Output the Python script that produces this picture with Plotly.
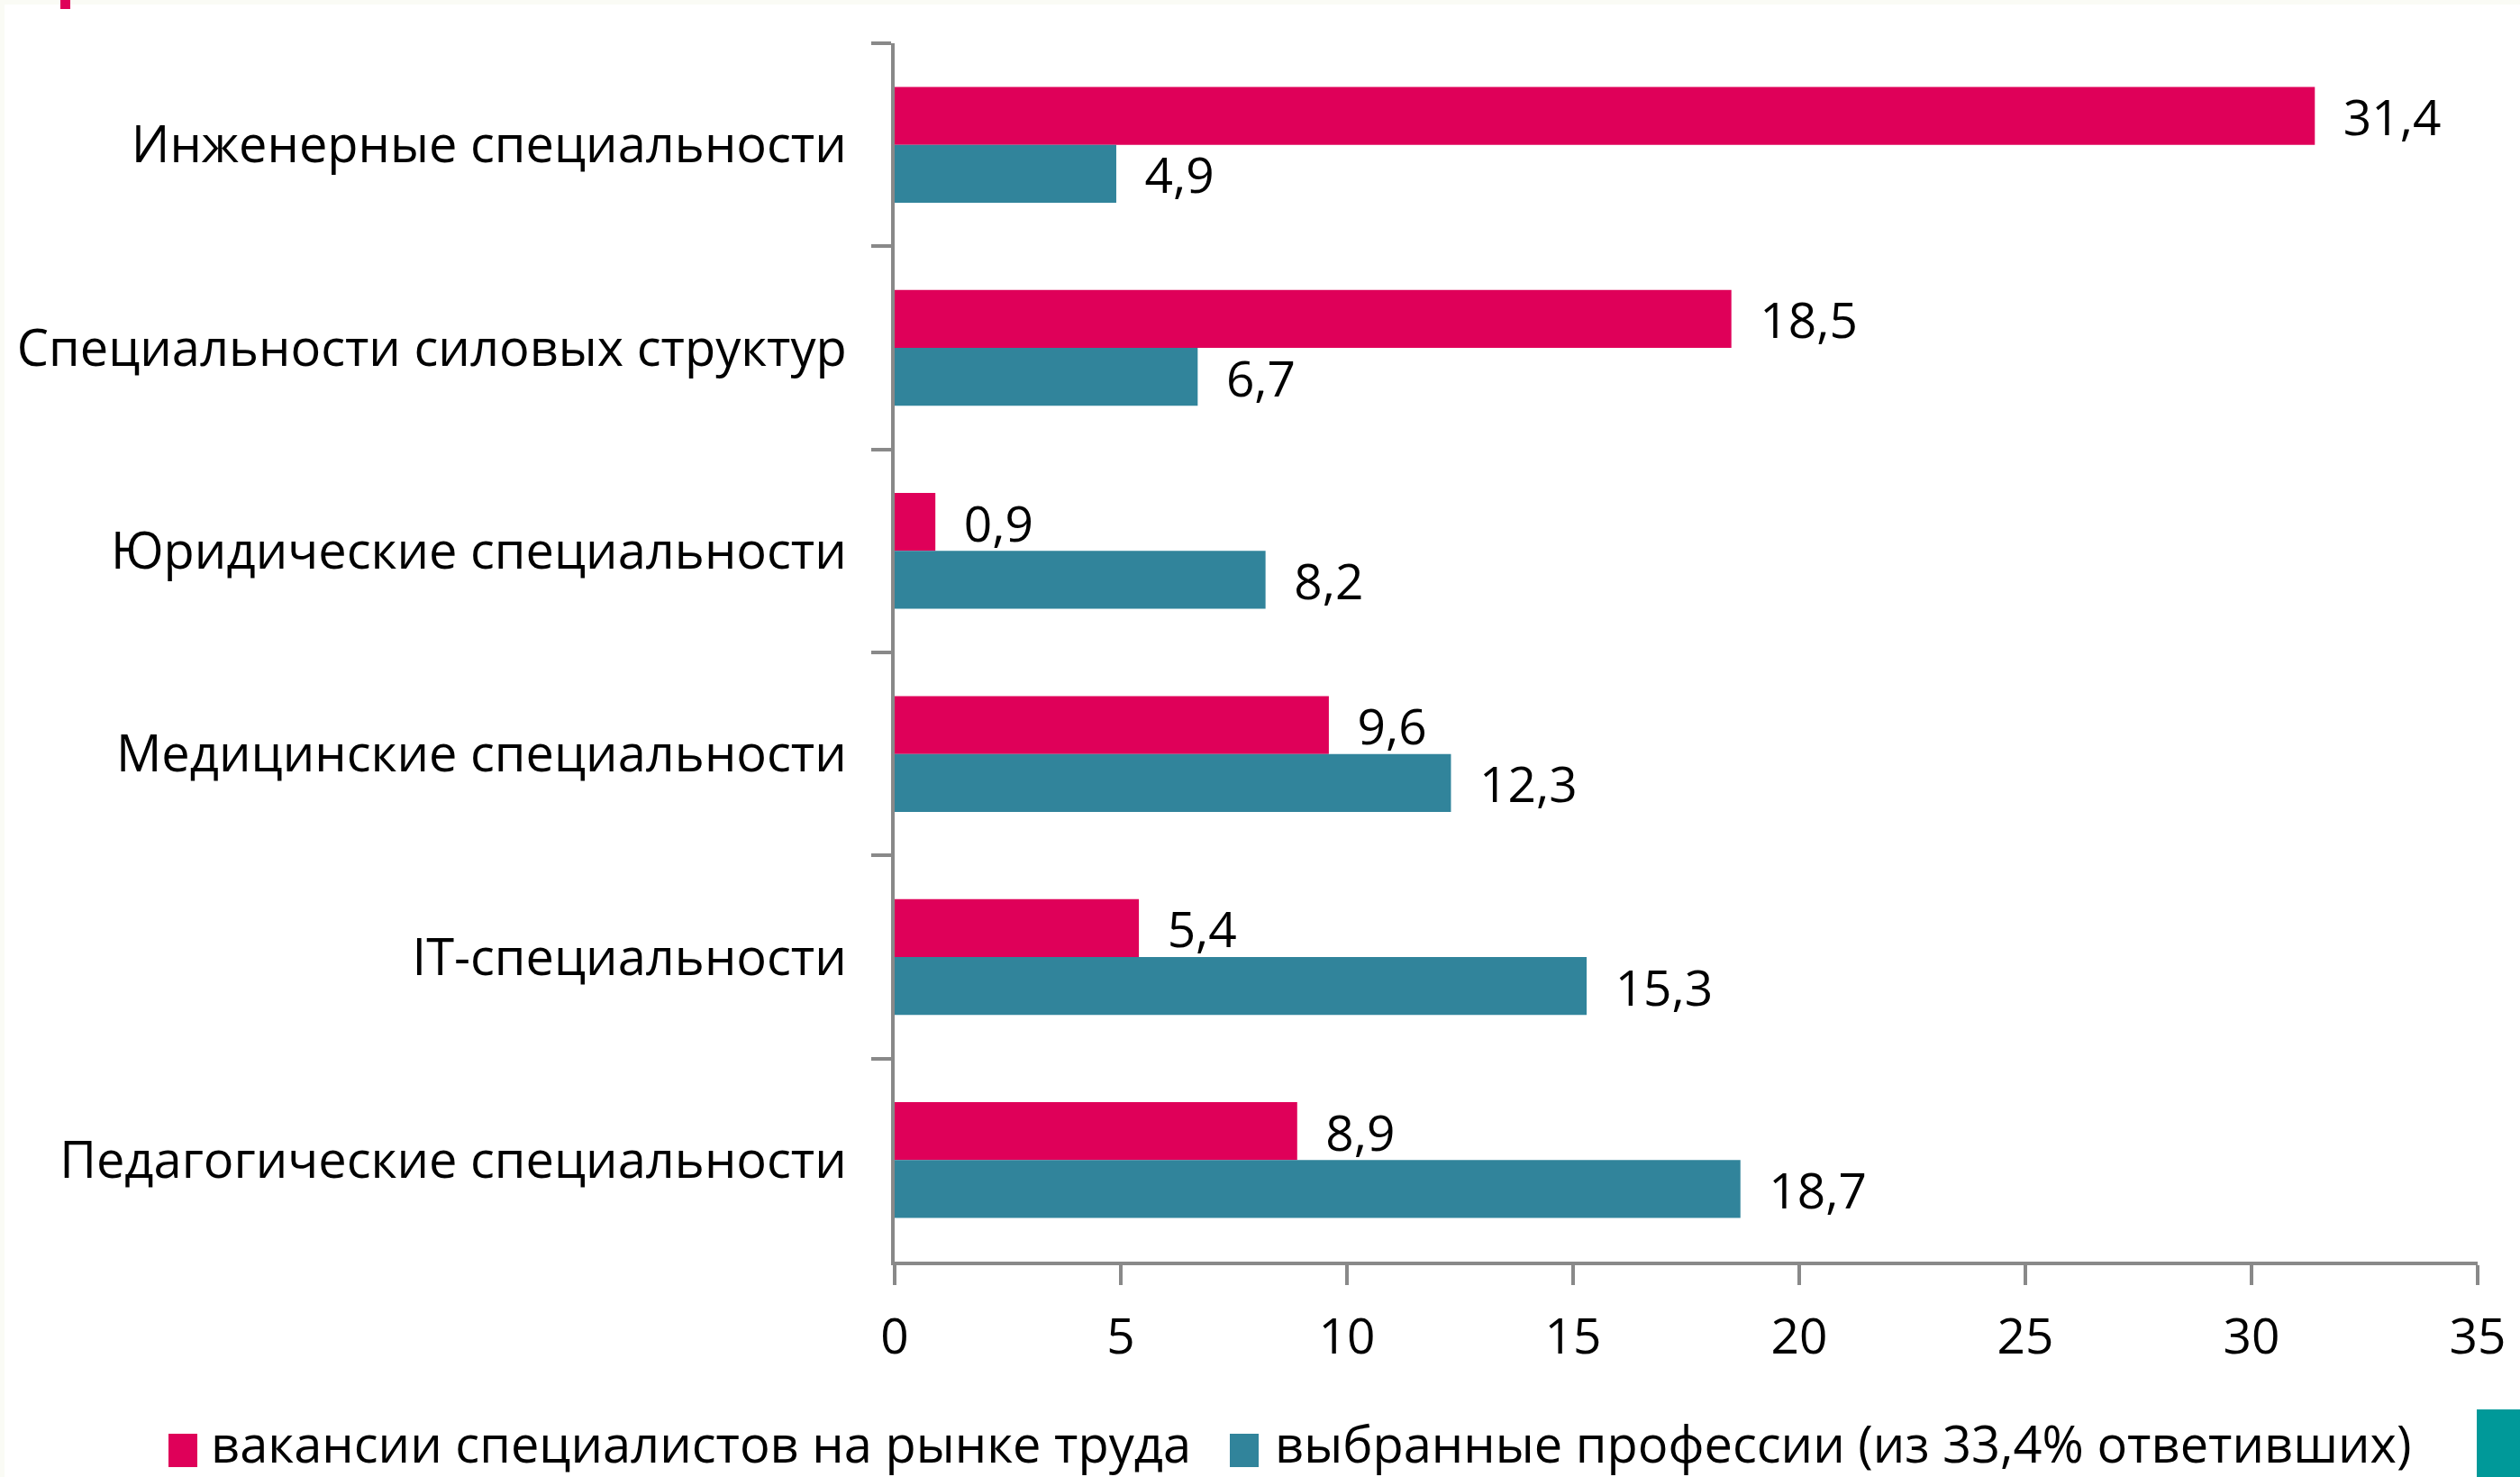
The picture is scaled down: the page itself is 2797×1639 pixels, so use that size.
import plotly.graph_objects as go

categories = [
    "Инженерные специальности",
    "Специальности силовых структур",
    "Юридические специальности",
    "Медицинские специальности",
    "IT-специальности",
    "Педагогические специальности",
]
vacancies = [31.4, 18.5, 0.9, 9.6, 5.4, 8.9]
chosen = [4.9, 6.7, 8.2, 12.3, 15.3, 18.7]
series_names = [
    "вакансии специалистов на рынке труда",
    "выбранные профессии (из 33,4% ответивших)",
]
x_ticks = [0, 5, 10, 15, 20, 25, 30, 35]

RED = "#DF0059"
TEAL = "#31849B"
AXIS = "#898989"
FONT = "Open Sans"
FS = 55

W, H = 2797, 1639
L, R, T, B = 993, 47, 48, 239
PW, PH = W - L - R, H - T - B


def px(x):
    return (x - L) / PW


def py(y):
    return (H - B - y) / PH


def lab(v):
    return "\u00a0\u00a0" + f"{v:.1f}".replace(".", ",")


fig = go.Figure()
for vals, color, name in [(vacancies, RED, series_names[0]), (chosen, TEAL, series_names[1])]:
    fig.add_trace(go.Bar(
        y=categories, x=vals, orientation="h", name=name,
        marker=dict(color=color, line=dict(width=0)),
        text=[lab(v) for v in vals], textposition="outside",
        textfont=dict(family=FONT, size=FS, color="#000000"),
        cliponaxis=False, constraintext="none",
    ))

fig.update_layout(
    template="none",
    width=W, height=H, autosize=False,
    margin=dict(l=L, r=R, t=T, b=B, pad=0),
    barmode="group", bargap=0.43, bargroupgap=0,
    paper_bgcolor="#FAFBF5", plot_bgcolor="rgba(0,0,0,0)",
    showlegend=False,
    font=dict(family=FONT, size=FS, color="#000000"),
    separators=", ",
    xaxis=dict(
        range=[0, 35], tickvals=x_ticks, ticks="outside", ticklen=22, tickwidth=4,
        tickcolor=AXIS, showline=True, linewidth=4, linecolor=AXIS, showgrid=False,
        zeroline=False, tickfont=dict(family=FONT, size=FS, color="#000000"),
        ticklabelstandoff=10, automargin=False,
    ),
    yaxis=dict(
        autorange="reversed", type="category", tickson="boundaries", ticks="outside",
        ticklen=22, tickwidth=4, tickcolor=AXIS, showline=True, linewidth=4,
        linecolor=AXIS, showgrid=False, zeroline=False,
        tickfont=dict(family=FONT, size=56, color="#000000"),
        ticklabelstandoff=38, automargin=False,
    ),
)

shapes = [
    dict(type="rect", xref="paper", yref="paper", x0=px(5), x1=px(W + 5), y0=py(H + 5), y1=py(5),
         fillcolor="#FFFFFF", line=dict(width=0), layer="below"),
    dict(type="rect", xref="paper", yref="paper", x0=px(67), x1=px(78), y0=py(10), y1=py(-2),
         fillcolor=RED, line=dict(width=0)),
    dict(type="rect", xref="paper", yref="paper", x0=px(187), x1=px(219), y0=py(1628), y1=py(1591),
         fillcolor=RED, line=dict(width=0)),
    dict(type="rect", xref="paper", yref="paper", x0=px(1365), x1=px(1397), y0=py(1628), y1=py(1591),
         fillcolor=TEAL, line=dict(width=0)),
    dict(type="rect", xref="paper", yref="paper", x0=px(2749), x1=px(W + 5), y0=py(H + 5), y1=py(1564),
         fillcolor="#009999", line=dict(width=0)),
]
fig.update_layout(shapes=shapes)

fig.add_annotation(x=px(232), y=py(1601), xref="paper", yref="paper", xanchor="left", yanchor="middle",
                   text=series_names[0], showarrow=False, font=dict(family=FONT, size=56, color="#000000"))
fig.add_annotation(x=px(1413), y=py(1601), xref="paper", yref="paper", xanchor="left", yanchor="middle",
                   text=series_names[1], showarrow=False, font=dict(family=FONT, size=56, color="#000000"))

fig.write_html(
    "out.html",
    config={"displayModeBar": False},
    post_script="document.body.style.margin='0';document.body.style.padding='0';document.body.style.overflow='hidden';",
)
